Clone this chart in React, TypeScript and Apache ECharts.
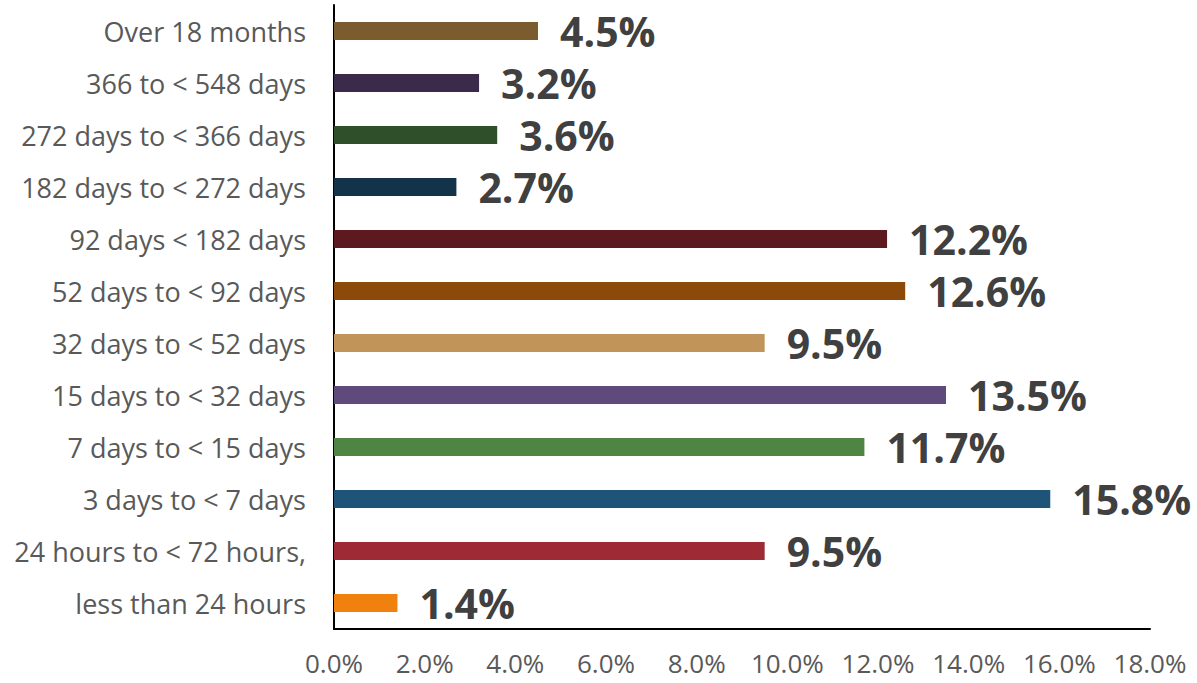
import React, { useEffect, useRef } from "react";
import * as echarts from "echarts";

const categories = [
  "less than 24 hours",
  "24 hours to < 72 hours,",
  "3 days to < 7 days",
  "7 days to < 15 days",
  "15 days to < 32 days",
  "32 days to < 52 days",
  "52 days to < 92 days",
  "92 days < 182 days",
  "182 days to < 272 days",
  "272 days to < 366 days",
  "366 to < 548 days",
  "Over 18 months",
];
const values = [1.4, 9.5, 15.8, 11.7, 13.5, 9.5, 12.6, 12.2, 2.7, 3.6, 3.2, 4.5];
const colors = [
  "#F0810F",
  "#9E2A36",
  "#1F5479",
  "#4E8542",
  "#604A7B",
  "#C1955A",
  "#8B4A0A",
  "#5C1A20",
  "#12334A",
  "#2F4F2A",
  "#3B2A4A",
  "#7B5C2E",
];

export default function App() {
  const ref = useRef<HTMLDivElement>(null);
  useEffect(() => {
    const chart = echarts.init(ref.current!, null, { renderer: "svg" });
    chart.setOption({
      animation: false,
      grid: { left: 334, right: 47, top: 5, bottom: 54 },
      xAxis: {
        type: "value",
        min: 0,
        max: 18,
        interval: 2,
        axisLine: { show: true, lineStyle: { color: "#000", width: 2 } },
        axisTick: { show: false },
        splitLine: { show: false },
        axisLabel: {
          formatter: (v: number) => v.toFixed(1) + "%",
          color: "#595959",
          fontFamily: "Open Sans",
          fontSize: 26,
          margin: 21,
        },
      },
      yAxis: {
        type: "category",
        data: categories,
        axisLine: { show: true, lineStyle: { color: "#000", width: 2 } },
        axisTick: { show: false },
        axisLabel: {
          color: "#595959",
          fontFamily: "Open Sans",
          fontSize: 27,
          margin: 28,
        },
      },
      series: [
        {
          type: "bar",
          barWidth: 18,
          data: values.map((v, i) => ({ value: v, itemStyle: { color: colors[i] } })),
          label: {
            show: true,
            position: "right",
            distance: 22,
            formatter: (p: any) => p.value.toFixed(1) + "%",
            color: "#404040",
            fontFamily: "Open Sans",
            fontWeight: "bold",
            fontSize: 41,
          },
        },
      ],
    });
    return () => chart.dispose();
  }, []);
  return <div ref={ref} style={{ width: 1197, height: 683, position: "absolute", left: 0, top: 0 }} />;
}
